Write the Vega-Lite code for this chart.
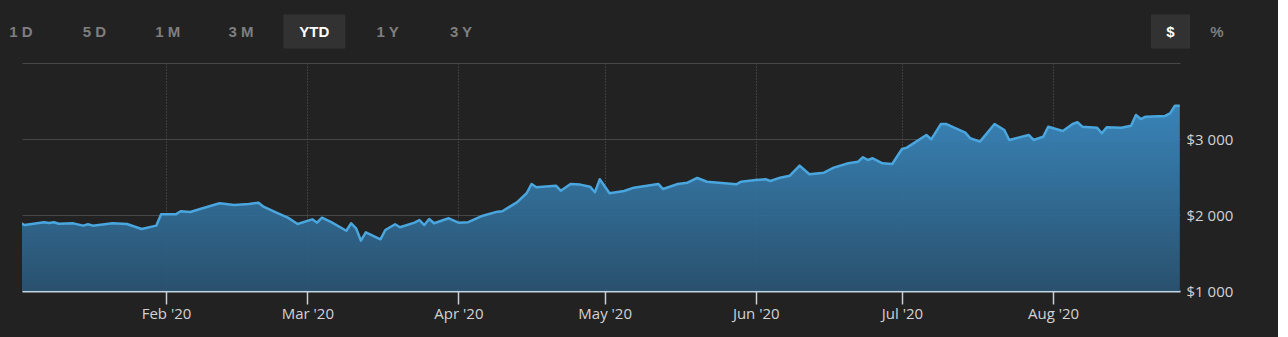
{
  "$schema": "https://vega.github.io/schema/vega-lite/v6.json",
  "width": 1158,
  "height": 228,
  "autosize": {"type": "none"},
  "padding": {"left": 22, "top": 63, "right": 98, "bottom": 46},
  "background": "#222222",
  "config": {"view": {"stroke": null}, "font": "Open Sans"},
  "layer": [
    {
      "data": {"values": [
        {"date": "2020-01-02", "value": 1899}, {"date": "2020-01-03", "value": 1868}, {"date": "2020-01-07", "value": 1904},
        {"date": "2020-01-08", "value": 1895}, {"date": "2020-01-09", "value": 1905}, {"date": "2020-01-10", "value": 1885},
        {"date": "2020-01-13", "value": 1890}, {"date": "2020-01-15", "value": 1860}, {"date": "2020-01-16", "value": 1878},
        {"date": "2020-01-17", "value": 1860}, {"date": "2020-01-21", "value": 1891}, {"date": "2020-01-24", "value": 1882},
        {"date": "2020-01-27", "value": 1816}, {"date": "2020-01-30", "value": 1860}, {"date": "2020-01-31", "value": 2009},
        {"date": "2020-02-03", "value": 2009}, {"date": "2020-02-04", "value": 2049}, {"date": "2020-02-06", "value": 2040},
        {"date": "2020-02-08", "value": 2079}, {"date": "2020-02-12", "value": 2154}, {"date": "2020-02-15", "value": 2132},
        {"date": "2020-02-18", "value": 2145}, {"date": "2020-02-20", "value": 2162}, {"date": "2020-02-21", "value": 2109},
        {"date": "2020-02-24", "value": 2022}, {"date": "2020-02-26", "value": 1965}, {"date": "2020-02-28", "value": 1882},
        {"date": "2020-03-02", "value": 1943}, {"date": "2020-03-03", "value": 1899}, {"date": "2020-03-04", "value": 1965},
        {"date": "2020-03-06", "value": 1904}, {"date": "2020-03-09", "value": 1793}, {"date": "2020-03-10", "value": 1891},
        {"date": "2020-03-11", "value": 1825}, {"date": "2020-03-12", "value": 1662}, {"date": "2020-03-13", "value": 1773},
        {"date": "2020-03-16", "value": 1680}, {"date": "2020-03-17", "value": 1803}, {"date": "2020-03-19", "value": 1878},
        {"date": "2020-03-20", "value": 1838}, {"date": "2020-03-23", "value": 1900}, {"date": "2020-03-24", "value": 1934},
        {"date": "2020-03-25", "value": 1868}, {"date": "2020-03-26", "value": 1947}, {"date": "2020-03-27", "value": 1891},
        {"date": "2020-03-30", "value": 1957}, {"date": "2020-04-01", "value": 1899}, {"date": "2020-04-03", "value": 1905},
        {"date": "2020-04-06", "value": 1991}, {"date": "2020-04-09", "value": 2044}, {"date": "2020-04-10", "value": 2050},
        {"date": "2020-04-13", "value": 2167}, {"date": "2020-04-15", "value": 2286}, {"date": "2020-04-16", "value": 2408},
        {"date": "2020-04-17", "value": 2365}, {"date": "2020-04-21", "value": 2386}, {"date": "2020-04-22", "value": 2320},
        {"date": "2020-04-24", "value": 2408}, {"date": "2020-04-26", "value": 2400}, {"date": "2020-04-28", "value": 2373},
        {"date": "2020-04-29", "value": 2299}, {"date": "2020-04-30", "value": 2470}, {"date": "2020-05-02", "value": 2286},
        {"date": "2020-05-05", "value": 2316}, {"date": "2020-05-07", "value": 2360}, {"date": "2020-05-12", "value": 2408},
        {"date": "2020-05-13", "value": 2342}, {"date": "2020-05-16", "value": 2408}, {"date": "2020-05-18", "value": 2425},
        {"date": "2020-05-20", "value": 2487}, {"date": "2020-05-22", "value": 2438}, {"date": "2020-05-28", "value": 2404},
        {"date": "2020-05-29", "value": 2438}, {"date": "2020-06-01", "value": 2461}, {"date": "2020-06-03", "value": 2470},
        {"date": "2020-06-04", "value": 2448}, {"date": "2020-06-06", "value": 2491}, {"date": "2020-06-08", "value": 2517},
        {"date": "2020-06-10", "value": 2649}, {"date": "2020-06-12", "value": 2536}, {"date": "2020-06-15", "value": 2557},
        {"date": "2020-06-17", "value": 2623}, {"date": "2020-06-20", "value": 2680}, {"date": "2020-06-22", "value": 2702},
        {"date": "2020-06-23", "value": 2760}, {"date": "2020-06-24", "value": 2724}, {"date": "2020-06-25", "value": 2746},
        {"date": "2020-06-27", "value": 2680}, {"date": "2020-06-29", "value": 2671}, {"date": "2020-07-01", "value": 2869},
        {"date": "2020-07-02", "value": 2886}, {"date": "2020-07-06", "value": 3053}, {"date": "2020-07-07", "value": 2996},
        {"date": "2020-07-09", "value": 3198}, {"date": "2020-07-10", "value": 3198}, {"date": "2020-07-14", "value": 3084},
        {"date": "2020-07-15", "value": 3010}, {"date": "2020-07-17", "value": 2965}, {"date": "2020-07-20", "value": 3198},
        {"date": "2020-07-22", "value": 3119}, {"date": "2020-07-23", "value": 2987}, {"date": "2020-07-27", "value": 3053},
        {"date": "2020-07-28", "value": 2987}, {"date": "2020-07-30", "value": 3031}, {"date": "2020-07-31", "value": 3162},
        {"date": "2020-08-03", "value": 3106}, {"date": "2020-08-05", "value": 3198}, {"date": "2020-08-06", "value": 3220},
        {"date": "2020-08-07", "value": 3162}, {"date": "2020-08-10", "value": 3149}, {"date": "2020-08-11", "value": 3075},
        {"date": "2020-08-12", "value": 3154}, {"date": "2020-08-15", "value": 3149}, {"date": "2020-08-17", "value": 3175},
        {"date": "2020-08-18", "value": 3316}, {"date": "2020-08-19", "value": 3263}, {"date": "2020-08-20", "value": 3294},
        {"date": "2020-08-24", "value": 3303}, {"date": "2020-08-25", "value": 3338}, {"date": "2020-08-26", "value": 3439},
        {"date": "2020-08-27", "value": 3439}
      ]},
      "encoding": {
        "x": {
          "field": "date", "type": "temporal",
          "scale": {"domain": [{"year": 2020, "month": "jan", "date": 2, "hours": 11}, {"year": 2020, "month": "aug", "date": 27, "hours": 1}]},
          "axis": {
            "orient": "bottom", "title": null, "format": "%b '%y",
            "tickCount": {"interval": "month", "step": 1},
            "domainColor": "#c3d3e0", "domainWidth": 2,
            "tickColor": "#c8cfd6", "tickSize": 13, "tickWidth": 1.5,
            "labelColor": "#d2d2d2", "labelFontSize": 15, "labelPadding": 2, "labelFlush": false,
            "grid": true, "gridColor": "#5c5c5c", "gridDash": [1, 2], "gridWidth": 1
          }
        },
        "y": {
          "field": "value", "type": "quantitative",
          "scale": {"domain": [1000, 4000], "nice": false, "zero": false},
          "axis": {
            "orient": "right", "title": null, "values": [1000, 2000, 3000, 4000],
            "labelExpr": "datum.value == 4000 ? '' : '$' + replace(format(datum.value, ','), ',', ' ')",
            "domain": false, "ticks": false,
            "labelColor": "#d2d2d2", "labelFontSize": 15, "labelPadding": 6,
            "grid": true, "gridColor": "#474747", "gridWidth": 1
          }
        }
      },
      "layer": [
        {
          "mark": {
            "type": "area", "clip": true, "opacity": 0.93,
            "color": {"gradient": "linear", "x1": 0, "y1": 0, "x2": 0, "y2": 1,
              "stops": [{"offset": 0, "color": "#3a8bc3"}, {"offset": 1, "color": "#2a5473"}]}
          },
          "encoding": {"y2": {"datum": 1000}}
        },
        {
          "mark": {"type": "line", "clip": true, "color": "#4aa6df", "strokeWidth": 2.5, "strokeJoin": "round"},
          "encoding": {}
        }
      ]
    },
    {
      "data": {"values": [
        {"label": "1 D"}, {"label": "5 D"}, {"label": "1 M"}, {"label": "3 M"},
        {"label": "YTD"}, {"label": "1 Y"}, {"label": "3 Y"}
      ]},
      "encoding": {
        "x": {"field": "label", "type": "nominal",
          "scale": {"type": "point", "domain": ["1 D", "5 D", "1 M", "3 M", "YTD", "1 Y", "3 Y"], "range": [-1, 439], "padding": 0},
          "axis": null},
        "y": {"datum": "buttons", "type": "nominal", "scale": {"type": "point", "range": [-31.5, -31.5]}, "axis": null}
      },
      "layer": [
        {
          "transform": [{"filter": "datum.label == 'YTD'"}],
          "mark": {"type": "rect", "width": 62, "height": 34, "color": "#323232"}
        },
        {
          "mark": {"type": "text", "font": "Liberation Sans", "fontWeight": "bold", "fontSize": 15, "baseline": "middle"},
          "encoding": {
            "text": {"field": "label"},
            "color": {"condition": {"test": "datum.label == 'YTD'", "value": "#ffffff"}, "value": "#7e7e7e"}
          }
        }
      ]
    },
    {
      "data": {"values": [{"label": "$"}, {"label": "%"}]},
      "encoding": {
        "x": {"field": "label", "type": "nominal",
          "scale": {"type": "point", "domain": ["$", "%"], "range": [1148.5, 1195], "padding": 0},
          "axis": null},
        "y": {"datum": "buttons", "type": "nominal", "scale": {"type": "point", "range": [-31.5, -31.5]}, "axis": null}
      },
      "layer": [
        {
          "transform": [{"filter": "datum.label == '$'"}],
          "mark": {"type": "rect", "width": 39, "height": 34, "color": "#323232"}
        },
        {
          "mark": {"type": "text", "font": "Liberation Sans", "fontWeight": "bold", "fontSize": 15, "baseline": "middle"},
          "encoding": {
            "text": {"field": "label"},
            "color": {"condition": {"test": "datum.label == '$'", "value": "#ffffff"}, "value": "#7e7e7e"}
          }
        }
      ]
    }
  ],
  "resolve": {"scale": {"x": "independent", "y": "independent"}}
}
